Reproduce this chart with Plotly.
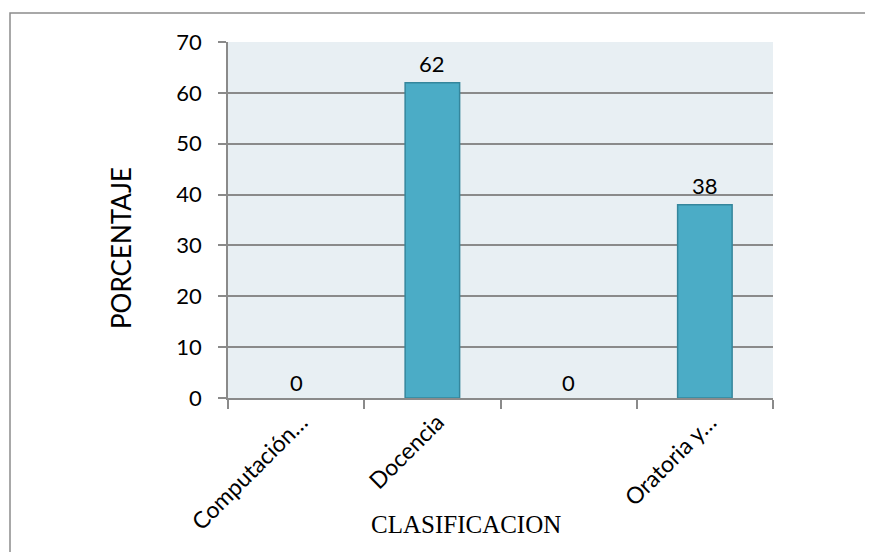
import plotly.graph_objects as go

categories = ["Computación…", "Docencia", " ", "Oratoria y…"]
values = [0, 62, 0, 38]
y_ticks = [0, 10, 20, 30, 40, 50, 60, 70]

OFF = 8  # default page margin of the html body
W, H = 873, 552
L, T = 228 - OFF, 42 - OFF
pw, ph = 545, 356
R, B = W - L - pw, H - T - ph

FONT = "Lato"
GRID = "#8A8A8A"

fig = go.Figure()
fig.add_trace(go.Bar(
    x=categories, y=values,
    marker=dict(color="#4BACC6",
                line=dict(color="#35869C", width=[1.5 if v > 0 else 0 for v in values])),
    width=0.4, hoverinfo="x+y",
))

def px_x(px):
    return (px - OFF - L) / pw

def px_y(py):
    return (T + ph - (py - OFF)) / ph

value_labels = [dict(text=str(v), x=c, y=v, xref="x", yref="y", showarrow=False,
                     yanchor="middle", yshift=19 if v > 0 else 16,
                     font=dict(family=FONT, size=22, color="#000000"))
                for c, v in zip(categories, values)]

fig.update_layout(
    width=W, height=H,
    margin=dict(l=L, r=R, t=T, b=B, pad=0),
    paper_bgcolor="white", plot_bgcolor="#E8EFF3",
    showlegend=False,
    font=dict(family=FONT, size=22, color="#000000"),
    xaxis=dict(
        type="category", tickson="boundaries", ticks="outside", ticklen=9,
        tickcolor=GRID, tickwidth=1.5, tickangle=-45,
        showline=True, linecolor=GRID, linewidth=1.5,
        showgrid=False, tickfont=dict(family=FONT, size=23),
        ticklabelshift=5,
    ),
    yaxis=dict(
        range=[0, 70], tickvals=y_ticks, ticks="outside", ticklen=8,
        tickcolor=GRID, tickwidth=1.5, showline=True, linecolor=GRID, linewidth=1.5,
        showgrid=True, gridcolor=GRID, gridwidth=1.5, zeroline=False,
        tickfont=dict(family=FONT, size=22), ticklabelstandoff=12,
    ),
    shapes=[dict(type="rect", xref="paper", yref="paper",
                 x0=px_x(10), x1=px_x(900), y0=px_y(600), y1=px_y(13),
                 line=dict(color="#8C8C8C", width=1.5), fillcolor="rgba(0,0,0,0)",
                 layer="below")],
    annotations=value_labels + [
        dict(text="PORCENTAJE", xref="paper", yref="paper", x=px_x(103), y=px_y(248),
             textangle=-90, showarrow=False, font=dict(family=FONT, size=26)),
        dict(text="CLASIFICACION", xref="paper", yref="paper", x=px_x(466), y=px_y(540),
             showarrow=False, font=dict(family="Liberation Serif", size=25)),
    ],
)

fig.write_html("out.html")
